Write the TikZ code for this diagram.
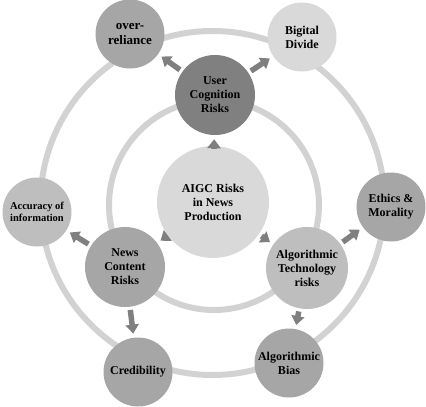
\documentclass[tikz,border=0pt]{standalone}
\usepackage{fontspec}
\setmainfont{Liberation Serif}
\usetikzlibrary{arrows.meta}
\definecolor{ringcol}{HTML}{D2D2D2}
\definecolor{arrcol}{HTML}{7F7F7F}
\definecolor{darkfill}{HTML}{808080}
\definecolor{midfill}{HTML}{A6A6A6}
\definecolor{softfill}{HTML}{BEBEBE}
\definecolor{lightfill}{HTML}{D9D9D9}
\begin{document}
\begin{tikzpicture}[x=1pt,y=-1pt,
  bub/.style={circle, inner sep=0pt, align=center, text=black,
    font=\bfseries\fontsize{12}{14}\selectfont},
  outerbub/.style={bub, minimum size=69pt},
  innerbub/.style={bub, minimum size=80pt},
  arr/.style={draw=arrcol, line width=5.5pt, -{Triangle[width=13pt,length=9pt]},
    shorten <=3pt, shorten >=4pt},
  ring/.style={draw=ringcol, line width=6pt}
]
\useasboundingbox (0,0) rectangle (426,407);
% rings
\coordinate (oc) at (212.5,203);
\coordinate (ic) at (214,205);
\draw[ring] (oc) circle[radius=172];
\draw[ring] (ic) circle[radius=105];
% outer nodes
\node[outerbub, fill=midfill, font=\bfseries\fontsize{13}{15}\selectfont] (over) at (130,34) {over-\\reliance};
\node[outerbub, fill=lightfill] (bigital) at (302,37) {Bigital\\Divide};
\node[outerbub, fill=softfill, font=\bfseries\fontsize{10.5}{12}\selectfont] (acc) at (37,212) {Accuracy of\\information};
\node[outerbub, fill=midfill] (ethics) at (391,207) {Ethics \&\\Morality};
\node[outerbub, fill=midfill] (cred) at (138,372) {Credibility};
\node[outerbub, fill=midfill] (bias) at (289,363) {Algorithmic\\Bias};
% inner nodes
\node[innerbub, fill=darkfill] (user) at (215,95) {User\\Cognition\\Risks};
\node[innerbub, fill=midfill] (news) at (125,267) {News\\Content\\Risks};
\node[innerbub, fill=softfill, minimum size=82pt] (algo) at (307,268) {Algorithmic\\Technology\\risks};
% centre
\node[bub, fill=lightfill, minimum size=112pt] (aigc) at (213,202) {AIGC Risks\\in News\\Production};
% arrows
\draw[arr] (aigc) -- (user);
\draw[arr] (aigc) -- (news);
\draw[arr] (aigc) -- (algo);
\draw[arr] (user) -- (over);
\draw[arr] (user) -- (bigital);
\draw[arr] (news) -- (acc);
\draw[arr] (news) -- (cred);
\draw[arr] (algo) -- (ethics);
\draw[arr] (algo) -- (bias);
\end{tikzpicture}
\end{document}
